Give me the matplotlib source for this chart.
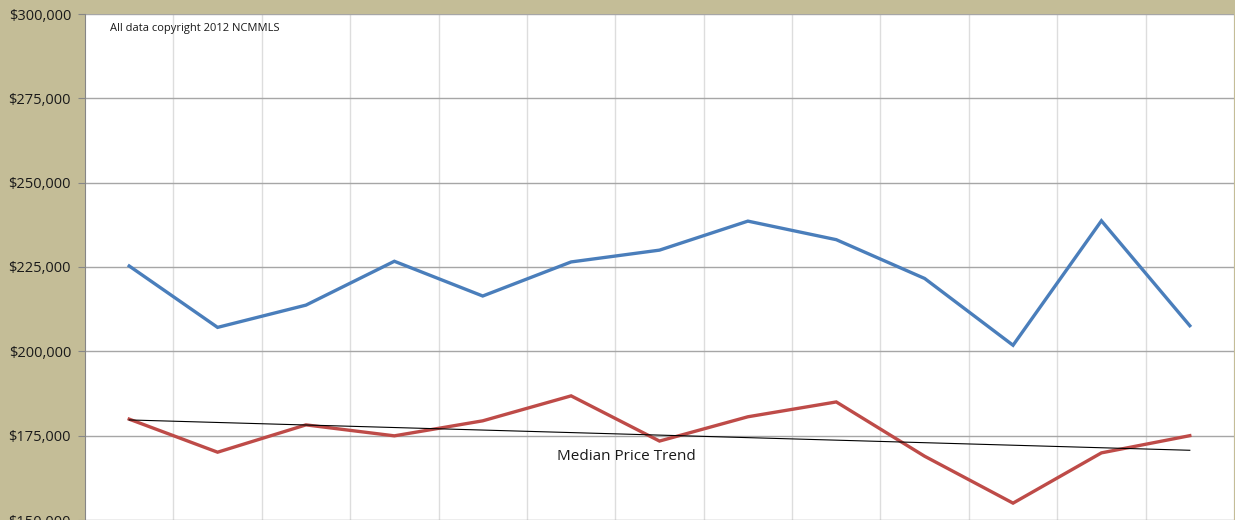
import numpy as np
import matplotlib.pyplot as plt
from matplotlib.ticker import FuncFormatter

# monthly values, 13 periods (x labels are cut off in the source)
periods = np.arange(13)
avg_price = [225300, 207100, 213700, 226700, 216400, 226500, 230000,
             238600, 233100, 221600, 201800, 238700, 207600]
median_price = [179900, 170100, 178200, 174950, 179400, 186800, 173400,
                180600, 185000, 168900, 155000, 169900, 175000]
y_ticks = [150000, 175000, 200000, 225000, 250000, 275000, 300000]

tan = '#C4BD97'
font = ['Open Sans', 'DejaVu Sans']

fig = plt.figure(figsize=(12.35, 5.2), dpi=100, facecolor=tan)
ax = fig.add_axes((85 / 1235, 0.0, 1149 / 1235, 1 - 14 / 520))
ax.set_facecolor('white')

ax.plot(periods, avg_price, color='#4A7EBB', linewidth=2.4, solid_joinstyle='miter')
ax.plot(periods, median_price, color='#BE4B48', linewidth=2.4, solid_joinstyle='miter')

# linear trend of the median price
coef = np.polyfit(periods, median_price, 1)
ax.plot(periods, np.polyval(coef, periods), color='black', linewidth=0.8)

ax.set_xlim(-0.5, 12.5)
ax.set_ylim(150000, 300000)
ax.set_yticks(y_ticks)
ax.yaxis.set_major_formatter(FuncFormatter(lambda v, p: f'${v:,.0f}'))
ax.set_xticks([])
ax.set_xticks(np.arange(0.5, 13, 1), minor=True)
ax.grid(axis='y', color='#A6A6A6', linewidth=1.0)
ax.grid(axis='x', which='minor', color='#DDDDDD', linewidth=1.0)
ax.set_axisbelow(True)

for s in ['top', 'right', 'bottom']:
    ax.spines[s].set_visible(False)
ax.spines['left'].set_color('#868686')
ax.tick_params(axis='y', length=5, color='#868686', labelsize=10.5, pad=5,
               labelcolor='#1a1a1a')
for lbl in ax.get_yticklabels():
    lbl.set_family(font)
ax.tick_params(axis='x', which='both', length=0)

fig.text(110 / 1235, 1 - 29 / 520, 'All data copyright 2012 NCMMLS',
         fontsize=8, family=font, ha='left', va='center', color='#1a1a1a')
fig.text(626 / 1235, 1 - 456 / 520, 'Median Price Trend',
         fontsize=11, family=font, ha='center', va='center', color='#1a1a1a')

fig.savefig('out.png', dpi=100, facecolor=tan)
